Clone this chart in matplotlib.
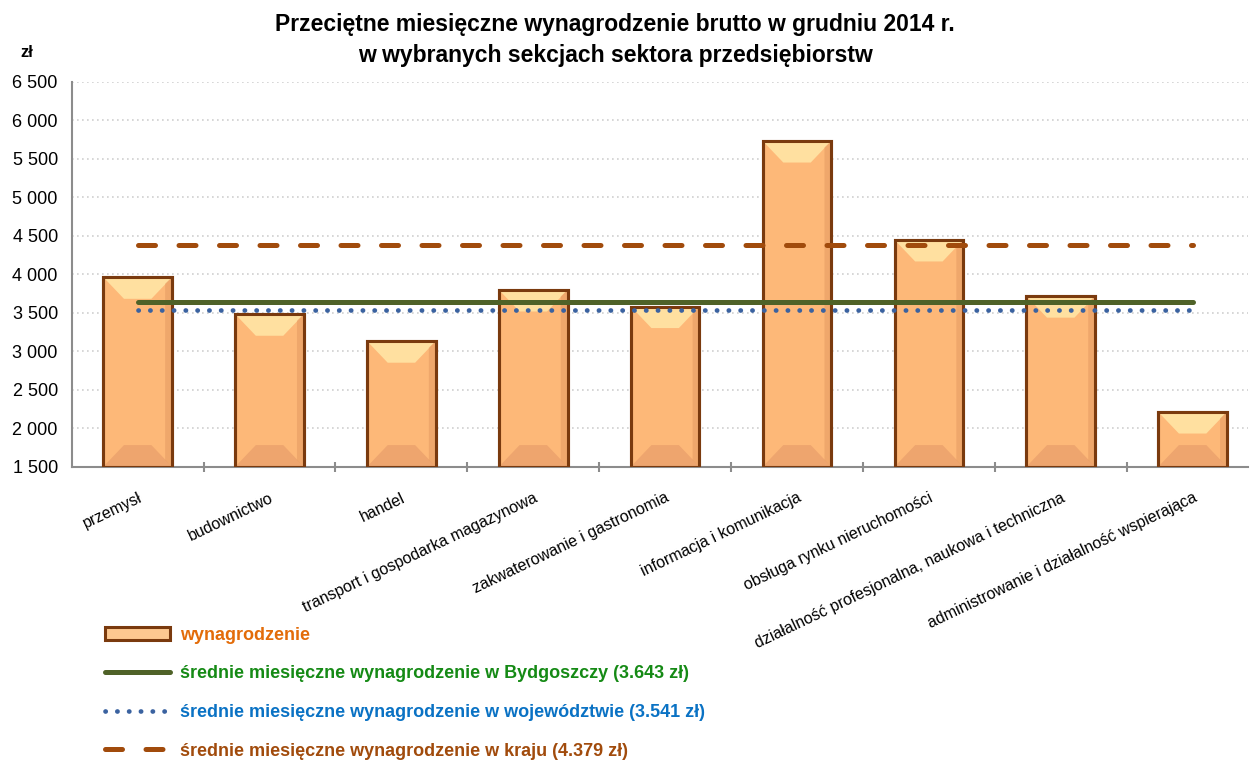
import numpy as np
import matplotlib.pyplot as plt
from matplotlib.patches import Polygon, Patch
from matplotlib.lines import Line2D
from matplotlib.ticker import FuncFormatter, MultipleLocator

# data
sections = ["przemysł", "budownictwo", "handel",
            "transport i gospodarka magazynowa",
            "zakwaterowanie i gastronomia",
            "informacja i komunikacja",
            "obsługa rynku nieruchomości",
            "działalność profesjonalna, naukowa i techniczna",
            "administrowanie i działalność wspierająca"]
wages = [3960, 3480, 3130, 3795, 3580, 5730, 4445, 3715, 2210]
avg_bydgoszcz = 3643
avg_region = 3541
avg_country = 4379

title = "Przeciętne miesięczne wynagrodzenie brutto w grudniu 2014 r.\nw wybranych sekcjach sektora przedsiębiorstw"
legend_labels = ["wynagrodzenie",
                 "średnie miesięczne wynagrodzenie w Bydgoszczy (3.643 zł)",
                 "średnie miesięczne wynagrodzenie w województwie (3.541 zł)",
                 "średnie miesięczne wynagrodzenie w kraju (4.379 zł)"]

plt.rcParams["font.family"] = ["Liberation Sans", "DejaVu Sans"]

fig = plt.figure(figsize=(12.5, 7.6), dpi=100)
ax = fig.add_axes([0.0574, 0.386, 0.941, 0.5065])

x = np.arange(len(sections))
bars = ax.bar(x, wages, width=0.52, color="#FDB878",
              edgecolor="#7A3A0E", linewidth=2.2, zorder=2)

# bevel effect on each bar (light top, darker bottom and right side)
for b in bars:
    x0, w, h = b.get_x(), b.get_width(), b.get_height()
    dx = w * 0.30
    dy = min(280, (h - 1500) / 2)
    ax.add_patch(Polygon([(x0, h), (x0 + w, h), (x0 + w - dx, h - dy), (x0 + dx, h - dy)],
                         facecolor="#FFE0A0", edgecolor="none", zorder=2.5))
    ax.add_patch(Polygon([(x0, 1500), (x0 + w, 1500), (x0 + w - dx, 1500 + dy), (x0 + dx, 1500 + dy)],
                         facecolor="#EEA56E", edgecolor="none", zorder=2.5))
    ax.add_patch(Polygon([(x0 + w, 1500), (x0 + w, h), (x0 + w * 0.9, h - dy * 0.3),
                          (x0 + w * 0.9, 1500 + dy * 0.3)],
                         facecolor="#E39860", edgecolor="none", alpha=0.5, zorder=2.5))
    ax.add_patch(plt.Rectangle((x0, 1500), w, h - 1500, fill=False,
                               edgecolor="#7A3A0E", linewidth=2.2, zorder=2.6))

green = "#4F6228"
blue = "#3A62A0"
brown = "#A14B0C"
ax.plot([x[0], x[-1]], [avg_country] * 2, color=brown, lw=3.6,
        linestyle=(0, (3.4, 4.7)), dash_capstyle="round", zorder=3)
ax.plot([x[0], x[-1]], [avg_bydgoszcz] * 2, color=green, lw=3.6,
        solid_capstyle="round", zorder=3)
ax.plot([x[0], x[-1]], [avg_region] * 2, color=blue, lw=3.4,
        linestyle=(0, (0.05, 2.45)), dash_capstyle="round", zorder=3)

ax.set_ylim(1500, 6500)
ax.set_xlim(-0.5, 8.42)
ax.yaxis.set_major_locator(MultipleLocator(500))
ax.yaxis.set_major_formatter(FuncFormatter(lambda v, p: f"{int(v):,}".replace(",", " ")))
ax.grid(axis="y", color="#CFCFCF", linestyle=(0, (1, 2)), linewidth=1.2, zorder=0)
ax.set_axisbelow(True)

for s in ["top", "right"]:
    ax.spines[s].set_visible(False)
for s in ["left", "bottom"]:
    ax.spines[s].set_color("#8C8C8C")
    ax.spines[s].set_linewidth(1.5)

ax.tick_params(axis="y", length=0, labelsize=13, pad=10)
ax.set_xticks(x)
ax.set_xticklabels(sections, rotation=25.5, ha="right", rotation_mode="anchor",
                   fontsize=11.5)
ax.tick_params(axis="x", length=0, pad=17)
ax.set_xticks(x[:-1] + 0.5, minor=True)
ax.tick_params(axis="x", which="minor", length=7, direction="inout",
               color="#8C8C8C", width=1.5)

fig.text(0.016, 0.931, "zł", fontsize=12, fontweight="bold", ha="left", va="center")
fig.text(0.492, 0.947, title, fontsize=16.5, fontweight="bold", ha="center",
         va="center", linespacing=1.45)

handles = [Patch(facecolor="#FDC890", edgecolor="#7A3A0E", linewidth=2.2),
           Line2D([], [], color=green, lw=3.6, solid_capstyle="round"),
           Line2D([], [], color=blue, lw=3.4, linestyle=(0, (0.05, 2.45)),
                  dash_capstyle="round"),
           Line2D([], [], color=brown, lw=3.6, linestyle=(0, (3.4, 4.7)),
                  dash_capstyle="round")]
leg = fig.legend(handles, legend_labels, loc="upper left",
                 bbox_to_anchor=(0.078, 0.185), frameon=False,
                 handlelength=3.6, handleheight=0.7, handletextpad=0.55,
                 labelspacing=1.2, borderaxespad=0,
                 prop={"weight": "bold", "size": 13},
                 labelcolor=["#E36C09", "#158A15", "#0A72C4", "#A14B0C"])

fig.savefig("out.png", dpi=100)
